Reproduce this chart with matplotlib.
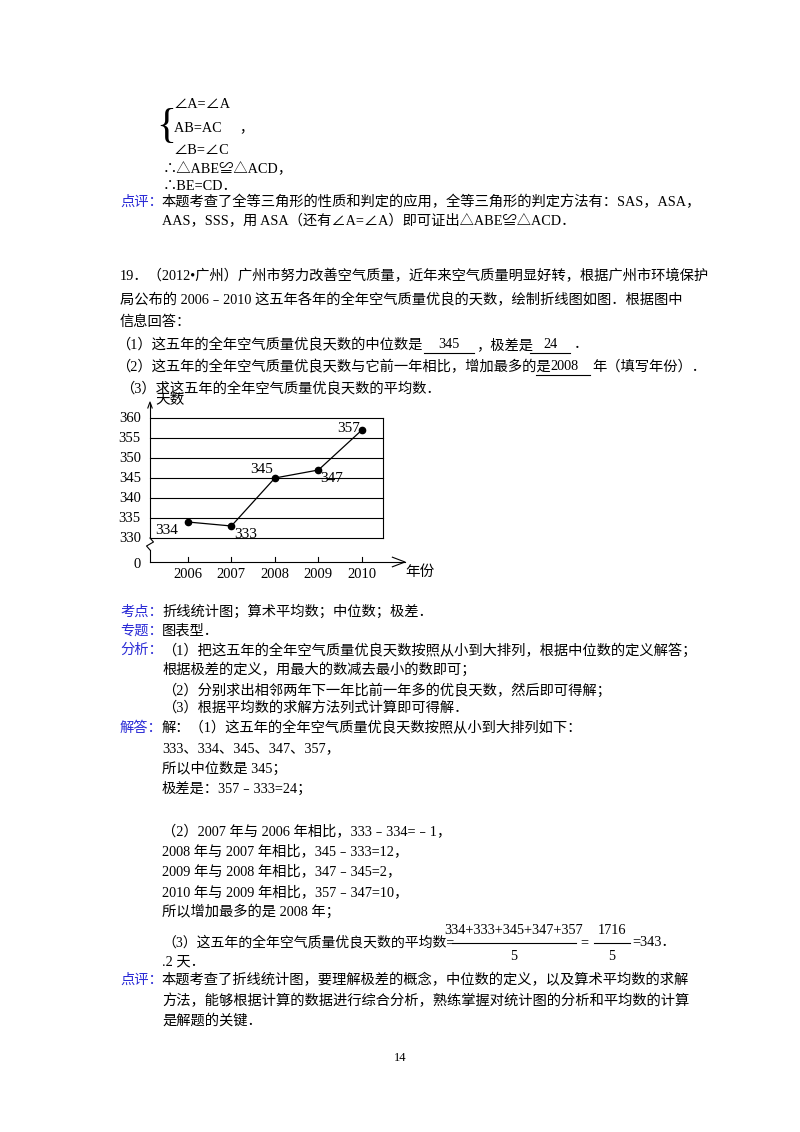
import matplotlib
matplotlib.use("Agg")
import matplotlib.pyplot as plt

years = [2006, 2007, 2008, 2009, 2010]
days = [334, 333, 345, 347, 357]
yticks = [330, 335, 340, 345, 350, 355, 360]
label_offsets = [(-10, -3.5, 'right'), (3, -3.5, 'left'), (-2, 3.5, 'right'), (2, -3.5, 'left'), (-2, 0.5, 'right')]

FAM = ['Liberation Serif', 'Noto Sans CJK SC']
W, H = 800, 1132
fig = plt.figure(figsize=(8, 11.32), dpi=100)
bg = fig.add_axes([0, 0, 1, 1])
bg.set_xlim(0, W); bg.set_ylim(H, 0); bg.axis('off')
FS = 10.3
BLUE = '#2b2bd6'

def t(x, y, s, color='black', fs=FS, ha='left'):
    bg.text(x, y, s, fontsize=fs, family=FAM, color=color, ha=ha, va='center')

def ul(xa, xb, y):
    bg.plot([xa, xb], [y, y], color='black', lw=0.8)

# brace system
t(156, 127, '{', fs=30)
t(174, 105, '∠A=∠A')
t(174, 128, 'AB=AC     ，')
t(174, 150, '∠B=∠C')
t(163, 169, '∴△ABE≌△ACD，')
t(163, 187, '∴BE=CD．')
t(120, 202, '点评：', BLUE)
t(162, 202, '本题考查了全等三角形的性质和判定的应用，全等三角形的判定方法有：SAS，ASA，')
t(162, 221, 'AAS，SSS，用 ASA（还有∠A=∠A）即可证出△ABE≌△ACD．')

t(120, 276, '19．（2012•广州）广州市努力改善空气质量，近年来空气质量明显好转，根据广州市环境保护')
t(120, 300, '局公布的 2006﹣2010 这五年各年的全年空气质量优良的天数，绘制折线图如图．根据图中')
t(120, 322, '信息回答：')
t(116, 345, '（1）这五年的全年空气质量优良天数的中位数是')
t(449, 345, '345', ha='center'); ul(424, 474, 353)
t(476, 345, '，极差是')
t(550, 345, '24', ha='center'); ul(530, 570, 353)
t(574, 345, '．')
t(116, 367, '（2）这五年的全年空气质量优良天数与它前一年相比，增加最多的是')
t(564, 367, '2008', ha='center'); ul(536, 590, 375)
t(592, 367, '年（填写年份）．')
t(120, 389, '（3）求这五年的全年空气质量优良天数的平均数．')

t(120, 612, '考点：', BLUE); t(162, 612, '折线统计图；算术平均数；中位数；极差．')
t(120, 631, '专题：', BLUE); t(162, 631, '图表型．')
t(120, 650, '分析：', BLUE); t(162, 650, '（1）把这五年的全年空气质量优良天数按照从小到大排列，根据中位数的定义解答；')
t(162, 670, '根据极差的定义，用最大的数减去最小的数即可；')
t(162, 690, '（2）分别求出相邻两年下一年比前一年多的优良天数，然后即可得解；')
t(162, 708, '（3）根据平均数的求解方法列式计算即可得解．')
t(120, 728, '解答：', BLUE); t(162, 728, '解：（1）这五年的全年空气质量优良天数按照从小到大排列如下：')
t(162, 749, '333、334、345、347、357，')
t(162, 769, '所以中位数是 345；')
t(162, 789, '极差是：357﹣333=24；')
t(162, 832, '（2）2007 年与 2006 年相比，333﹣334=﹣1，')
t(162, 851, '2008 年与 2007 年相比，345﹣333=12，')
t(162, 871, '2009 年与 2008 年相比，347﹣345=2，')
t(162, 892, '2010 年与 2009 年相比，357﹣347=10，')
t(162, 912, '所以增加最多的是 2008 年；')
t(162, 943, '（3）这五年的全年空气质量优良天数的平均数=', fs=10)
t(514, 930, '334+333+345+347+357', ha='center')
bg.plot([452, 576], [943, 943], color='black', lw=0.8)
t(514, 957, '5', ha='center')
t(580, 943, '=')
t(612, 930, '1716', ha='center')
bg.plot([594, 630], [943, 943], color='black', lw=0.8)
t(612, 957, '5', ha='center')
t(632, 943, '=343．')
t(162, 962, '.2 天．')
t(120, 980, '点评：', BLUE); t(162, 980, '本题考查了折线统计图，要理解极差的概念，中位数的定义，以及算术平均数的求解')
t(162, 1001, '方法，能够根据计算的数据进行综合分析，熟练掌握对统计图的分析和平均数的计算')
t(162, 1021, '是解题的关键．')
t(400, 1058, '14', fs=9, ha='center')

# chart axes: px x 150..405, y 402..562
x0, x1, y0, y1 = 150, 405, 402, 562
ax = fig.add_axes([x0 / W, 1 - y1 / H, (x1 - x0) / W, (y1 - y0) / H])
ax.patch.set_alpha(0)
ax.set_xlim(2005.13, 2010.99)
ax.set_ylim(324, 364)
for s in ax.spines.values():
    s.set_visible(False)
ax.set_xticks([]); ax.set_yticks([])
xr = 2010.48
for v in yticks:
    ax.plot([2005.13, xr], [v, v], color='black', lw=0.8, clip_on=False)
ax.plot([xr, xr], [330, 360], color='black', lw=0.8)
ax.plot([2005.13, 2005.13], [330, 363.5], color='black', lw=0.8, clip_on=False)
ax.plot([2005.13, 2005.13], [324, 327], color='black', lw=0.8, clip_on=False)
ax.plot([2005.13, 2005.05, 2005.21, 2005.13], [327, 328, 329, 330], color='black', lw=0.8, clip_on=False)
ax.plot([2005.08, 2005.13, 2005.18], [362.5, 364, 362.5], color='black', lw=0.8, clip_on=False)
ax.plot([2005.13, 2010.99], [324, 324], color='black', lw=0.8, clip_on=False)
ax.plot([2010.7, 2010.99, 2010.7], [325.2, 324, 322.8], color='black', lw=0.8, clip_on=False)
for yr in years:
    ax.plot([yr, yr], [324, 325.2], color='black', lw=0.8)
    ax.text(yr, 321, str(yr), family=FAM, fontsize=10.5, ha='center', va='center', clip_on=False)
for v in yticks:
    ax.text(2004.92, v, str(v), family=FAM, fontsize=10.5, ha='right', va='center', clip_on=False)
ax.text(2004.92, 323.5, '0', family=FAM, fontsize=10.5, ha='right', va='center', clip_on=False)
ax.text(2005.25, 364.3, '天数', family=FAM, fontsize=10.5, ha='left', va='center', clip_on=False)
ax.text(2011.0, 321.5, '年份', family=FAM, fontsize=10.5, ha='left', va='center', clip_on=False)
ax.plot(years, days, color='black', lw=0.9, marker='o', ms=4.5, clip_on=False)
for yr, d, (dx, dy, ha) in zip(years, days, label_offsets):
    ax.text(yr + dx * 0.023, d + dy * 0.6, str(d), family=FAM, fontsize=11, ha=ha, va='center', clip_on=False)

fig.savefig('out.png', dpi=100)
